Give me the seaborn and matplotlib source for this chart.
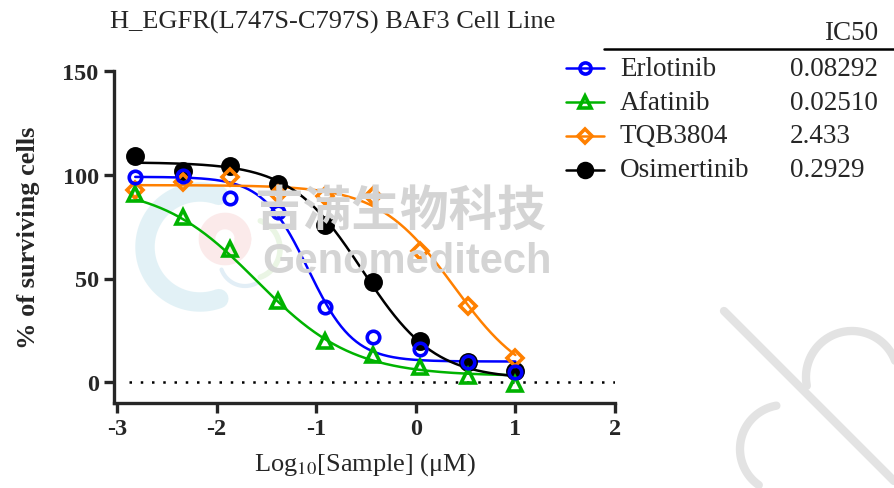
import numpy as np
import pandas as pd
import matplotlib
matplotlib.use("Agg")
import matplotlib.pyplot as plt
from matplotlib.lines import Line2D
import seaborn as sns

# Data: log10 concentration (uM), 3-fold dilution series
log_conc = [-2.817, -2.340, -1.863, -1.386, -0.908, -0.431, 0.046, 0.523, 1.000]

drugs = ["Erlotinib", "Afatinib", "TQB3804", "Osimertinib"]
erlotinib = [98.9, 99.5, 89.0, 82.0, 36.5, 21.7, 16.0, 9.6, 5.0]
afatinib = [90.7, 79.6, 64.0, 39.0, 20.0, 13.0, 7.2, 3.0, -1.0]
tqb3804 = [92.5, 96.5, 98.9, 90.7, 89.9, 89.9, 63.3, 36.8, 11.6]
osimertinib = [109.0, 102.0, 104.0, 95.5, 75.7, 48.2, 20.0, 9.6, 5.5]
values = [erlotinib, afatinib, tqb3804, osimertinib]

# fitted 4PL parameters (IC50 from the legend table)
ic50 = [0.08292, 0.02510, 2.433, 0.2929]
ic50_labels = ["0.08292", "0.02510", "2.433", "0.2929"]
tops = [99.0, 95.0, 95.0, 106.0]
bottoms = [10.0, 3.0, -3.0, 1.5]
hills = [1.9, 0.9, 1.15, 1.2]

colors = ["#0000ff", "#00b300", "#ff8000", "#000000"]
markers = ["o", "^", "D", "o"]
filled = [False, False, False, True]
msizes = [9, 10, 8, 11]
draw_order = [3, 2, 1, 0]

sns.set_style("ticks")
plt.rcParams['font.family'] = ['Liberation Serif', 'DejaVu Sans']
plt.rcParams['mathtext.fontset'] = 'stix'

fig = plt.figure(figsize=(8.94, 4.89), dpi=100)
ax = fig.add_axes([114 / 894, 1 - 404 / 489, 501 / 894, 332 / 489])


def px(x, y):
    # figure pixel (from top-left) -> figure fraction
    return x / 894, 1 - y / 489


def arc_px(cx, cy, r, t0, t1, n=80):
    t = np.radians(np.linspace(t0, t1, n))
    xs = (cx + r * np.cos(t)) / 894
    ys = 1 - (cy - r * np.sin(t)) / 489
    return xs, ys


# --- watermark (behind everything) ---
wm = "#d4d4d4"
fig.text(*px(400, 212), "吉满生物科技", family=['Noto Sans CJK SC', 'DejaVu Sans'],
         fontsize=35, fontweight='bold', color=wm, ha='center', va='center', zorder=0)
fig.text(*px(407, 262), "Genomeditech", family=['Liberation Sans', 'DejaVu Sans'],
         fontsize=30, fontweight='bold', color=wm, ha='center', va='center', zorder=0)
for (cx, cy, r, t0, t1, c, lw, a) in [
        (200, 248, 55, 70, 290, "#cfe9f1", 14, 0.6),
        (225, 240, 18, 0, 360, "#f8d6d6", 12, 0.5),
        (250, 250, 30, -70, 70, "#dcefd2", 4, 0.6),
        (245, 262, 25, 200, 300, "#cfe3f0", 3, 0.6)]:
    xs, ys = arc_px(cx, cy, r, t0, t1)
    fig.add_artist(Line2D(xs, ys, color=c, lw=lw, alpha=a, zorder=0,
                          solid_capstyle='round'))

deco = "#e3e3e3"
fig.add_artist(Line2D(*zip(px(724, 312), px(894, 482)), color=deco, lw=6, zorder=0))
for (cx, cy, r, t0, t1) in [(852, 378, 46, 15, 191), (784, 450, 44, 100, 235)]:
    xs, ys = arc_px(cx, cy, r, t0, t1)
    fig.add_artist(Line2D(xs, ys, color=deco, lw=6, zorder=0))

# --- fitted curves ---
x_fit = np.linspace(log_conc[0], log_conc[-1], 300)
rows = []
for name, top, bot, h, ic in zip(drugs, tops, bottoms, hills, ic50):
    y_fit = bot + (top - bot) / (1 + 10 ** ((x_fit - np.log10(ic)) * h))
    rows.append(pd.DataFrame({"x": x_fit, "y": y_fit, "drug": name}))
curves = pd.concat(rows)
sns.lineplot(data=curves, x="x", y="y", hue="drug", hue_order=drugs,
             palette=colors, linewidth=1.8, legend=False, ax=ax, zorder=3)

# --- data points ---
for i in draw_order:
    ax.plot(log_conc, values[i], ls='none', marker=markers[i], ms=msizes[i],
            mec=colors[i], mfc=colors[i] if filled[i] else 'none',
            mew=2.6, zorder=4, clip_on=False)

ax.axhline(0, xmin=0.03, xmax=1, color='black', ls=(0, (1, 3.5)), lw=1.8, zorder=2)

ax.set_xlim(-3.03, 2.0)
ax.set_ylim(-10, 150)
ax.set_xticks([-3, -2, -1, 0, 1, 2])
ax.set_yticks([0, 50, 100, 150])
ax.set_xticklabels(["-3", "-2", "-1", "0", "1", "2"])
ax.set_yticklabels(["0", "50", "100", "150"])
sns.despine(ax=ax)
for s in ["left", "bottom"]:
    ax.spines[s].set_linewidth(2.4)
ax.tick_params(axis='both', length=7, width=2.4, labelsize=17.5, pad=4)
for lab in ax.get_xticklabels() + ax.get_yticklabels():
    lab.set_fontweight('bold')
ax.patch.set_alpha(0)
ax.set_xlabel("Log$_{10}$[Sample] (μM)", fontsize=19, labelpad=8)
ax.set_ylabel("% of surviving cells", fontsize=19, fontweight='bold', labelpad=16)

fig.text(*px(333, 22), "H_EGFR(L747S-C797S) BAF3 Cell Line", fontsize=19,
         ha='center', va='center')

# --- legend table with IC50 ---
fig.text(*px(878, 34), "IC50", fontsize=19.5, ha='right', va='center')
fig.add_artist(Line2D(*zip(px(604, 50), px(894, 50)), color='black', lw=1.8))
row_y = [69, 103, 137, 171]
for i, yy in enumerate(row_y):
    fig.add_artist(Line2D(*zip(px(566, yy), px(604, yy)), color=colors[i], lw=1.8))
    fig.add_artist(Line2D([px(585, yy)[0]], [px(585, yy)[1]], ls='none',
                          marker=markers[i], ms=msizes[i] - 1, mec=colors[i],
                          mfc=colors[i] if filled[i] else 'none', mew=2.6))
    fig.text(*px(620, yy), drugs[i], fontsize=19.5, ha='left', va='center')
    fig.text(*px(790, yy), ic50_labels[i], fontsize=19.5, ha='left', va='center')

fig.savefig("out.png", dpi=100)
